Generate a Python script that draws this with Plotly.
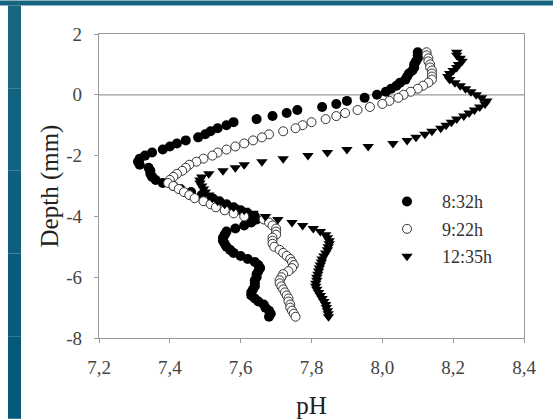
import plotly.graph_objects as go

depth = [round(1.4 - 0.1 * i, 1) for i in range(88)]  # 1.4 ... -7.3 mm

ph_0832 = [8.10, 8.10, 8.10, 8.095, 8.09, 8.09, 8.085, 8.075, 8.07, 8.065,
           8.05, 8.04, 8.025, 8.01, 7.985, 7.95, 7.90, 7.87, 7.83, 7.76,
           7.73, 7.69, 7.645, 7.58, 7.56, 7.535, 7.515, 7.50, 7.48, 7.445,
           7.42, 7.40, 7.38, 7.35, 7.33, 7.315, 7.31, 7.315, 7.34, 7.345,
           7.345, 7.35, 7.36, 7.38, 7.41, 7.43, 7.46, 7.49, 7.52, 7.54,
           7.56, 7.58, 7.60, 7.62, 7.64, 7.645, 7.63, 7.61, 7.585, 7.56,
           7.555, 7.55, 7.55, 7.555, 7.56, 7.57, 7.58, 7.60, 7.62, 7.64,
           7.65, 7.655, 7.65, 7.645, 7.645, 7.64, 7.64, 7.64, 7.635, 7.63,
           7.63, 7.64, 7.65, 7.665, 7.67, 7.68, 7.685, 7.68]

ph_0922 = [8.125, 8.125, 8.13, 8.13, 8.135, 8.135, 8.14, 8.14, 8.14, 8.14,
           8.13, 8.115, 8.10, 8.08, 8.06, 8.045, 8.02, 8.00, 7.965, 7.93,
           7.895, 7.87, 7.84, 7.80, 7.775, 7.755, 7.72, 7.68, 7.66, 7.635,
           7.61, 7.585, 7.56, 7.535, 7.52, 7.495, 7.475, 7.455, 7.445, 7.435,
           7.42, 7.41, 7.40, 7.395, 7.41, 7.425, 7.44, 7.455, 7.47, 7.495,
           7.515, 7.53, 7.555, 7.58, 7.61, 7.665, 7.68, 7.69, 7.70, 7.70,
           7.70, 7.69, 7.69, 7.69, 7.695, 7.71, 7.72, 7.73, 7.74, 7.745,
           7.75, 7.745, 7.735, 7.72, 7.715, 7.71, 7.71, 7.715, 7.72, 7.725,
           7.73, 7.735, 7.735, 7.74, 7.74, 7.745, 7.75, 7.755]

ph_1235 = [8.21, 8.21, 8.22, 8.225, 8.215, 8.21, 8.20, 8.19, 8.185, 8.19,
           8.205, 8.22, 8.235, 8.25, 8.265, 8.28, 8.295, 8.29, 8.275, 8.26,
           8.245, 8.23, 8.21, 8.195, 8.18, 8.165, 8.14, 8.12, 8.095, 8.07,
           8.03, 7.96, 7.90, 7.845, 7.79, 7.72, 7.66, 7.61, 7.585, 7.55,
           7.51, 7.49, 7.485, 7.485, 7.49, 7.495, 7.50, 7.51, 7.52, 7.535,
           7.555, 7.58, 7.61, 7.635, 7.67, 7.705, 7.745, 7.775, 7.805, 7.825,
           7.84, 7.845, 7.85, 7.85, 7.847, 7.845, 7.84, 7.835, 7.83, 7.828,
           7.825, 7.822, 7.82, 7.818, 7.815, 7.815, 7.812, 7.812, 7.815, 7.82,
           7.825, 7.83, 7.835, 7.84, 7.842, 7.845, 7.847, 7.848]

series_names = ["8:32h", "9:22h", "12:35h"]
x_ticks = [7.2, 7.4, 7.6, 7.8, 8.0, 8.2, 8.4]
x_ticktext = ["7,2", "7,4", "7,6", "7,8", "8,0", "8,2", "8,4"]
y_ticks = [2, 0, -2, -4, -6, -8]
y_ticktext = ["2", "0", "-2", "-4", "-6", "-8"]

W, H = 553, 419
L, R, T, B = 99, 524, 33.5, 338
pw, ph = R - L, B - T


def px(x):
    return (x - L) / pw


def py(y):
    return (B - y) / ph


AX = "#9a9a9a"
SERIF = "Liberation Serif, Times New Roman, serif"

fig = go.Figure()
fig.add_trace(go.Scatter(
    x=ph_0832, y=depth, mode="markers", name=series_names[0], legendrank=1,
    legendgroup="a",
    marker=dict(symbol="circle", size=10, color="black", line=dict(width=0))))
fig.add_trace(go.Scatter(
    x=ph_0922, y=depth, mode="markers", name=series_names[1], legendrank=2,
    legendgroup="b",
    marker=dict(symbol="circle", size=9, color="white",
                line=dict(width=1, color="#333"))))
fig.add_trace(go.Scatter(
    x=ph_1235, y=depth, mode="markers", name=series_names[2], legendrank=3,
    legendgroup="c",
    marker=dict(symbol="triangle-down", size=10, color="black", line=dict(width=0))))

shapes = [
    dict(type="line", xref="paper", yref="y", x0=0, x1=1, y0=0, y1=0,
         line=dict(color=AX, width=1.2), layer="below"),
    dict(type="rect", xref="paper", yref="paper", x0=px(0), x1=px(W),
         y0=py(5), y1=py(0), fillcolor="#156580", line=dict(width=0)),
]
cols = ["#176781", "#12637f", "#0d5f7d", "#095c7b", "#055979"]
n = len(cols)
for i, c in enumerate(cols):
    y0p = 5 + (H - 5) * i / n
    y1p = 5 + (H - 5) * (i + 1) / n
    shapes.append(dict(type="rect", xref="paper", yref="paper",
                       x0=px(8), x1=px(21), y0=py(y1p), y1=py(y0p),
                       fillcolor=c, line=dict(width=0)))

tickfont = dict(family=SERIF, size=19, color="#444")

fig.update_layout(
    width=W, height=H,
    margin=dict(l=L, r=W - R, t=T, b=H - B, autoexpand=False),
    paper_bgcolor="white", plot_bgcolor="white",
    font=dict(family=SERIF, color="#333", size=19),
    showlegend=True,
    legend=dict(x=px(372), y=py(183), xanchor="left", yanchor="top",
                bgcolor="rgba(0,0,0,0)", borderwidth=0, itemwidth=60,
                tracegroupgap=1, font=dict(family=SERIF, size=18, color="#333")),
    shapes=shapes,
    xaxis=dict(range=[7.2, 8.4], tickvals=x_ticks, ticktext=x_ticktext,
               automargin=False,
               showgrid=False, zeroline=False, showline=True, linecolor=AX,
               linewidth=1.2, mirror=True, ticks="outside", ticklen=4,
               tickcolor=AX, tickwidth=1.2, ticklabelstandoff=8,
               tickfont=tickfont,
               title=dict(text="pH", standoff=22,
                          font=dict(family=SERIF, size=25, color="#222"))),
    yaxis=dict(range=[-8, 2], tickvals=y_ticks, ticktext=y_ticktext,
               automargin=False,
               showgrid=False, zeroline=False,
               showline=True, linecolor=AX, linewidth=1.2, mirror=True,
               ticks="outside", ticklen=4, tickcolor=AX, tickwidth=1.2,
               ticklabelstandoff=8, tickfont=tickfont,
               title=dict(text="Depth (mm)", standoff=0,
                          font=dict(family=SERIF, size=25, color="#222"))),
)

fig.write_html("out.html")
